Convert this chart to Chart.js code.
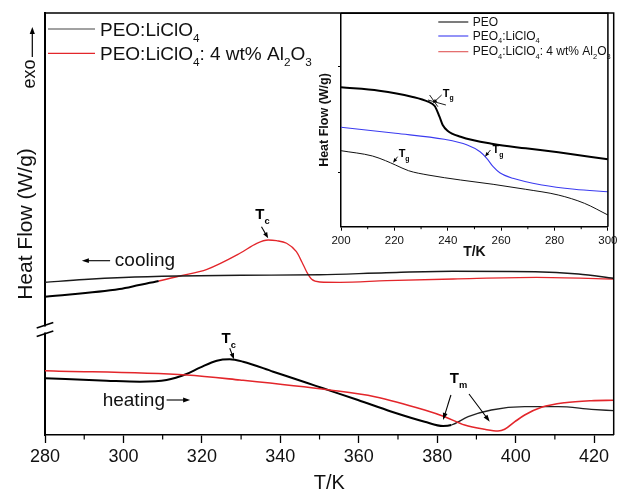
<!DOCTYPE html>
<html><head><meta charset="utf-8">
<script src="https://cdn.jsdelivr.net/npm/chart.js@4.4.0/dist/chart.umd.min.js"></script>
<style>
html,body{margin:0;padding:0;background:#fff;}
#wrap{position:relative;width:621px;height:491px;background:#fff;}
#main{position:absolute;left:0;top:0;}
#inset{position:absolute;left:300px;top:0;}
</style></head><body>
<div id="wrap"><canvas id="main" width="621" height="491"></canvas><canvas id="inset" width="321" height="262"></canvas></div>
<script>
// ---------- data (heat flow in arbitrary units) ----------
const mainXTicks = [280, 300, 320, 340, 360, 380, 400, 420];
const insetXTicks = [200, 220, 240, 260, 280, 300];
const insetYTicks = [5.4, 16.0];

const coolBaseT  = [280, 290, 300, 314, 330, 350, 367, 384, 405, 416, 425];
const coolBaseHF = [15.27, 15.55, 15.75, 15.9, 15.98, 16.02, 16.23, 16.37, 16.33, 16.1, 15.67];

const coolAlT  = [280, 299, 304, 309, 314.4, 321.3, 329.7, 334, 336.9, 339, 341.6, 344.1, 345.5, 346.7, 348, 350.1, 355.2, 367.1, 384.1, 405.3, 425];
const coolAlHF = [13.83, 14.6, 15.0, 15.4, 15.9, 16.57, 18.17, 19.17, 19.5, 19.43, 19.17, 18.33, 17.3, 16.33, 15.57, 15.3, 15.27, 15.43, 15.6, 15.77, 15.6];

const heatBaseT  = [280, 295.7, 304.2, 311, 316.1, 319.5, 323.8, 327.1, 330.5, 338.2, 346.7, 350.9, 359.8, 368.4, 376.8, 381.5, 383.6, 387.9, 393.8, 402.3, 410.8, 419.3, 425];
const heatBaseHF = [5.67, 5.43, 5.33, 5.5, 6.1, 6.73, 7.43, 7.57, 7.33, 6.33, 5.23, 4.67, 3.5, 2.33, 1.33, 0.9, 1.0, 1.83, 2.5, 2.83, 2.83, 2.57, 2.43];

const heatAlT  = [280, 316.1, 329.7, 352.6, 364.1, 376.8, 381.9, 387, 392.1, 395.5, 397.2, 399.8, 402.3, 406.6, 412.5, 419.3, 425];
const heatAlHF = [6.43, 6.0, 5.5, 4.5, 3.83, 2.5, 1.83, 1.0, 0.57, 0.4, 0.57, 1.33, 2.0, 2.77, 3.23, 3.43, 3.47];

const insetPeoT  = [200, 211.8, 216.7, 220.4, 225.3, 232.6, 244.8, 257, 269.2, 281.4, 291.2, 300];
const insetPeoHF = [7.6, 7.07, 6.6, 6.17, 5.6, 5.17, 4.67, 4.24, 3.74, 3.17, 2.34, 1.17];
const insetLiT  = [200, 220.4, 238.7, 247.3, 252.1, 254.6, 257, 259.5, 264.4, 275.3, 287.5, 300];
const insetLiHF = [9.94, 9.34, 8.74, 8.17, 7.5, 6.84, 6.0, 5.4, 4.84, 4.17, 3.74, 3.5];
const insetAlT  = [200, 214.3, 226.5, 232.6, 235.1, 236.9, 238.1, 239.9, 244.8, 257, 269.2, 281.4, 300];
const insetAlHF = [13.94, 13.6, 13.0, 12.5, 12.07, 11.0, 10.17, 9.6, 9.0, 8.27, 7.84, 7.44, 6.74];

// ---------- helpers ----------
const FF = "'Liberation Sans', Arial, Helvetica, sans-serif";
Chart.defaults.font.family = FF;
Chart.defaults.color = '#111';
const RED = '#e3262b';
const BLUE = '#3b3bf0';
function pts(t, v) { return t.map((x, i) => ({ x: x, y: v[i] })); }

function rich(ctx, x, y, parts, size, bold, align) {
  const w = bold ? 'bold ' : '';
  const sub = size * 0.62;
  let total = 0;
  parts.forEach(([t, s]) => { ctx.font = w + (s ? sub : size) + 'px ' + FF; total += ctx.measureText(t).width; });
  let cx = align === 'center' ? x - total / 2 : x;
  ctx.textBaseline = 'middle'; ctx.textAlign = 'left';
  parts.forEach(([t, s]) => {
    ctx.font = w + (s ? sub : size) + 'px ' + FF;
    ctx.fillText(t, cx, s ? y + size * 0.42 : y);
    cx += ctx.measureText(t).width;
  });
}
function arrow(ctx, x1, y1, x2, y2, head, hw) {
  head = head || 6; hw = hw || 2.4;
  const a = Math.atan2(y2 - y1, x2 - x1), c = Math.cos(a), s = Math.sin(a);
  ctx.beginPath(); ctx.moveTo(x1, y1); ctx.lineTo(x2 - c * head * 0.7, y2 - s * head * 0.7); ctx.stroke();
  ctx.beginPath(); ctx.moveTo(x2, y2);
  ctx.lineTo(x2 - head * c + hw * s, y2 - head * s - hw * c);
  ctx.lineTo(x2 - head * c - hw * s, y2 - head * s + hw * c);
  ctx.closePath(); ctx.fill();
}

// ---------- main chart decorations ----------
const mainDecor = {
  id: 'mainDecor',
  afterDraw(chart) {
    const { ctx, chartArea: a, scales: { x, y } } = chart;
    const P = (t, v) => [x.getPixelForValue(t), y.getPixelForValue(v)];
    ctx.save();
    ctx.strokeStyle = '#000'; ctx.fillStyle = '#000';
    // frame
    ctx.lineWidth = 1.5;
    ctx.beginPath(); ctx.moveTo(a.left, a.top); ctx.lineTo(a.right, a.top); ctx.lineTo(a.right, a.bottom); ctx.stroke();
    // minor ticks
    ctx.lineWidth = 1.2;
    for (let t = 290; t <= 425; t += 20) {
      const px = x.getPixelForValue(t);
      ctx.beginPath(); ctx.moveTo(px, a.bottom); ctx.lineTo(px, a.bottom + 4.5); ctx.stroke();
    }
    // axis break
    const by = y.getPixelForValue(10.55);
    ctx.fillStyle = '#fff'; ctx.fillRect(a.left - 2.5, by - 3, 5, 6);
    ctx.fillStyle = '#000';
    ctx.lineWidth = 1.6;
    [-4.2, 4.2].forEach(d => { ctx.beginPath(); ctx.moveTo(a.left - 8.3, by + d + 2.7); ctx.lineTo(a.left + 8.3, by + d - 2.7); ctx.stroke(); });
    // legend
    ctx.lineWidth = 1.2; ctx.strokeStyle = '#444';
    ctx.beginPath(); ctx.moveTo(a.left + 3, a.top + 16); ctx.lineTo(a.left + 50, a.top + 16); ctx.stroke();
    ctx.strokeStyle = RED;
    ctx.beginPath(); ctx.moveTo(a.left + 3, a.top + 40.3); ctx.lineTo(a.left + 50, a.top + 40.3); ctx.stroke();
    ctx.fillStyle = '#111';
    rich(ctx, a.left + 55, a.top + 17.7, [['PEO:LiClO', 0], ['4', 1]], 19, false);
    rich(ctx, a.left + 55, a.top + 42, [['PEO:LiClO', 0], ['4', 1], [': 4 wt% Al', 0], ['2', 1], ['O', 0], ['3', 1]], 19, false);
    // exo
    ctx.save();
    const [, ey] = P(280, 36.1);
    ctx.translate(a.left - 15, ey); ctx.rotate(-Math.PI / 2);
    ctx.font = '18px ' + FF; ctx.textAlign = 'center'; ctx.textBaseline = 'middle';
    ctx.fillText('exo', 0, 0);
    ctx.restore();
    ctx.strokeStyle = '#000'; ctx.fillStyle = '#000'; ctx.lineWidth = 1.2;
    arrow(ctx, a.left - 12.7, y.getPixelForValue(37.8), a.left - 12.7, y.getPixelForValue(40.8), 7, 2.6);
    // cooling / heating
    ctx.fillStyle = '#111';
    let p = P(297.8, 17.45); ctx.font = '19px ' + FF; ctx.textAlign = 'left'; ctx.textBaseline = 'middle';
    ctx.fillText('cooling', p[0], p[1]);
    p = P(294.7, 3.45); ctx.fillText('heating', p[0], p[1]);
    ctx.fillStyle = '#000'; ctx.lineWidth = 1.1;
    let q1 = P(296.6, 17.43), q2 = P(289.4, 17.43); arrow(ctx, q1[0], q1[1], q2[0], q2[1], 7, 2.4);
    q1 = P(311.0, 3.5); q2 = P(317.0, 3.5); arrow(ctx, q1[0], q1[1], q2[0], q2[1], 7, 2.4);
    // T_c cooling
    p = P(333.6, 22.0); rich(ctx, p[0], p[1], [['T', 0], ['c', 1]], 15, true);
    q1 = P(335.2, 20.83); q2 = P(336.9, 19.67); arrow(ctx, q1[0], q1[1], q2[0], q2[1], 6, 2.3);
    // T_c heating
    p = P(325.0, 9.6); rich(ctx, p[0], p[1], [['T', 0], ['c', 1]], 15, true);
    q1 = P(327.1, 8.67); q2 = P(328.2, 7.57); arrow(ctx, q1[0], q1[1], q2[0], q2[1], 6, 2.3);
    // T_m
    p = P(383.2, 5.6); rich(ctx, p[0], p[1], [['T', 0], ['m', 1]], 15, true);
    q1 = P(383.5, 4.0); q2 = P(381.5, 1.5); arrow(ctx, q1[0], q1[1], q2[0], q2[1], 7, 2.4);
    q1 = P(388.1, 4.1); q2 = P(393.4, 1.33); arrow(ctx, q1[0], q1[1], q2[0], q2[1], 7, 2.4);
    ctx.restore();
  }
};

new Chart(document.getElementById('main'), {
  type: 'line',
  data: {
    datasets: [
      { label: 'PEO:LiClO4 (cooling)', data: pts(coolBaseT, coolBaseHF), borderColor: '#1a1a1a', borderWidth: 1.4 },
      { label: 'PEO:LiClO4: 4 wt% Al2O3 (cooling)', data: pts(coolAlT, coolAlHF), borderColor: RED, borderWidth: 1.3,
        segment: {
          borderColor: c => c.p1.parsed.x <= 309.5 ? '#000' : undefined,
          borderWidth: c => c.p1.parsed.x <= 309.5 ? 2 : undefined
        } },
      { label: 'PEO:LiClO4: 4 wt% Al2O3 (heating)', data: pts(heatAlT, heatAlHF), borderColor: RED, borderWidth: 1.6 },
      { label: 'PEO:LiClO4 (heating)', data: pts(heatBaseT, heatBaseHF), borderColor: '#000', borderWidth: 2,
        segment: {
          borderColor: c => c.p0.parsed.x >= 383.6 ? '#222' : undefined,
          borderWidth: c => c.p0.parsed.x >= 383.6 ? 1.3 : undefined
        } }
    ]
  },
  options: {
    responsive: false, animation: false, devicePixelRatio: 1,
    layout: { padding: { top: 13, right: 7.3, left: 0, bottom: 0 } },
    plugins: { legend: { display: false }, tooltip: { enabled: false } },
    elements: { point: { radius: 0 }, line: { cubicInterpolationMode: 'monotone', fill: false } },
    scales: {
      x: {
        type: 'linear', min: 280, max: 425,
        afterBuildTicks: s => { s.ticks = mainXTicks.map(v => ({ value: v })); },
        afterFit: s => { s.height = 56; },
        ticks: { font: { size: 18 }, color: '#111', padding: 3, maxRotation: 0, autoSkip: false },
        grid: { display: true, drawOnChartArea: false, drawTicks: true, tickLength: 8, tickWidth: 1.3, tickColor: '#000' },
        border: { display: true, color: '#000', width: 1.5 },
        title: { display: true, text: 'T/K', font: { size: 20, lineHeight: 1 }, color: '#111', padding: { top: 0, bottom: -2 } }
      },
      y: {
        type: 'linear', min: 0, max: 42.2,
        afterFit: s => { s.width = 45; },
        ticks: { display: false },
        grid: { display: false },
        border: { display: true, color: '#000', width: 2 },
        title: { display: true, text: 'Heat Flow (W/g)', font: { size: 21, lineHeight: 1 }, color: '#111', padding: { top: 15.5, bottom: 0 } }
      }
    }
  },
  plugins: [mainDecor]
});

// ---------- inset ----------
const insetDecor = {
  id: 'insetDecor',
  afterDraw(chart) {
    const { ctx, chartArea: a, scales: { x, y } } = chart;
    const P = (t, v) => [x.getPixelForValue(t), y.getPixelForValue(v)];
    ctx.save();
    ctx.strokeStyle = '#000'; ctx.fillStyle = '#000';
    ctx.lineWidth = 1.5;
    ctx.beginPath(); ctx.moveTo(a.left, a.top); ctx.lineTo(a.right, a.top); ctx.lineTo(a.right, a.bottom); ctx.stroke();
    ctx.lineWidth = 1;
    for (let t = 210; t < 300; t += 20) {
      const px = x.getPixelForValue(t);
      ctx.beginPath(); ctx.moveTo(px, a.bottom); ctx.lineTo(px, a.bottom + 2.5); ctx.stroke();
    }
    // legend
    const cols = ['#111', BLUE, '#e05555'];
    const rows = [8.7, 22.7, 38.4];
    cols.forEach((c, i) => {
      ctx.strokeStyle = c; ctx.lineWidth = 1.1;
      ctx.beginPath(); ctx.moveTo(a.left + 97.3, a.top + rows[i]); ctx.lineTo(a.left + 127.3, a.top + rows[i]); ctx.stroke();
    });
    ctx.fillStyle = '#111';
    rich(ctx, a.left + 131.7, a.top + 9, [['PEO', 0]], 12, false);
    rich(ctx, a.left + 131.7, a.top + 23, [['PEO', 0], ['4', 1], [':LiClO', 0], ['4', 1]], 12, false);
    rich(ctx, a.left + 131.7, a.top + 38.7, [['PEO', 0], ['4', 1], [':LiClO', 0], ['4', 1], [': 4 wt% Al', 0], ['2', 1], ['O', 0], ['3', 1]], 12, false);
    // Tg marks
    ctx.strokeStyle = '#000'; ctx.fillStyle = '#000'; ctx.lineWidth = 0.9;
    let p = P(238.1, 13.3); rich(ctx, p[0], p[1], [['T', 0], ['g', 1]], 11, true);
    let q1 = P(237.7, 13.17), q2 = P(234.4, 12.34); arrow(ctx, q1[0], q1[1], q2[0], q2[1], 4.5, 1.8);
    q1 = P(232.6, 12.67); q2 = P(239.3, 12.17);
    ctx.beginPath(); ctx.moveTo(q1[0], q1[1]); ctx.lineTo(q2[0], q2[1]); ctx.stroke();
    q1 = P(233.2, 13.17); q2 = P(236.3, 12.0);
    ctx.beginPath(); ctx.moveTo(q1[0], q1[1]); ctx.lineTo(q2[0], q2[1]); ctx.stroke();
    p = P(256.8, 7.67); rich(ctx, p[0], p[1], [['T', 0], ['g', 1]], 11, true);
    q1 = P(256.0, 7.67); q2 = P(253.95, 7.0); arrow(ctx, q1[0], q1[1], q2[0], q2[1], 4.5, 1.8);
    p = P(221.6, 7.27); rich(ctx, p[0], p[1], [['T', 0], ['g', 1]], 11, true);
    q1 = P(221.2, 7.0); q2 = P(219.5, 6.4); arrow(ctx, q1[0], q1[1], q2[0], q2[1], 4.5, 1.8);
    ctx.restore();
  }
};

new Chart(document.getElementById('inset'), {
  type: 'line',
  data: {
    datasets: [
      { label: 'PEO', data: pts(insetPeoT, insetPeoHF), borderColor: '#111', borderWidth: 1 },
      { label: 'PEO4:LiClO4', data: pts(insetLiT, insetLiHF), borderColor: BLUE, borderWidth: 1.1 },
      { label: 'PEO4:LiClO4: 4 wt% Al2O3', data: pts(insetAlT, insetAlHF), borderColor: '#000', borderWidth: 2 }
    ]
  },
  options: {
    responsive: false, animation: false, devicePixelRatio: 1,
    layout: { padding: { top: 13.3, right: 7, left: 0, bottom: 0 } },
    plugins: { legend: { display: false }, tooltip: { enabled: false } },
    elements: { point: { radius: 0 }, line: { cubicInterpolationMode: 'monotone', fill: false } },
    scales: {
      x: {
        type: 'linear', min: 200, max: 300,
        afterBuildTicks: s => { s.ticks = insetXTicks.map(v => ({ value: v })); },
        afterFit: s => { s.height = 35.3; },
        ticks: { font: { size: 11.5 }, color: '#111', padding: 3.5, maxRotation: 0, autoSkip: false },
        grid: { display: true, drawOnChartArea: false, drawTicks: true, tickLength: 4, tickWidth: 1, tickColor: '#000' },
        border: { display: true, color: '#000', width: 1.5 },
        title: { display: true, text: 'T/K', font: { size: 14, weight: 'bold', lineHeight: 1 }, color: '#111', padding: { top: 0, bottom: 2.5 } }
      },
      y: {
        type: 'linear', min: 0, max: 21.34,
        afterBuildTicks: s => { s.ticks = insetYTicks.map(v => ({ value: v })); },
        afterFit: s => { s.width = 41; },
        ticks: { display: false },
        grid: { display: true, drawOnChartArea: false, drawTicks: true, tickLength: 3, tickWidth: 1, tickColor: '#000' },
        border: { display: true, color: '#000', width: 1.5 },
        title: { display: true, text: 'Heat Flow (W/g)', font: { size: 12.5, weight: 'bold', lineHeight: 1 }, color: '#111', padding: { top: 18.7, bottom: 0 } }
      }
    }
  },
  plugins: [insetDecor]
});
</script>
</body></html>
